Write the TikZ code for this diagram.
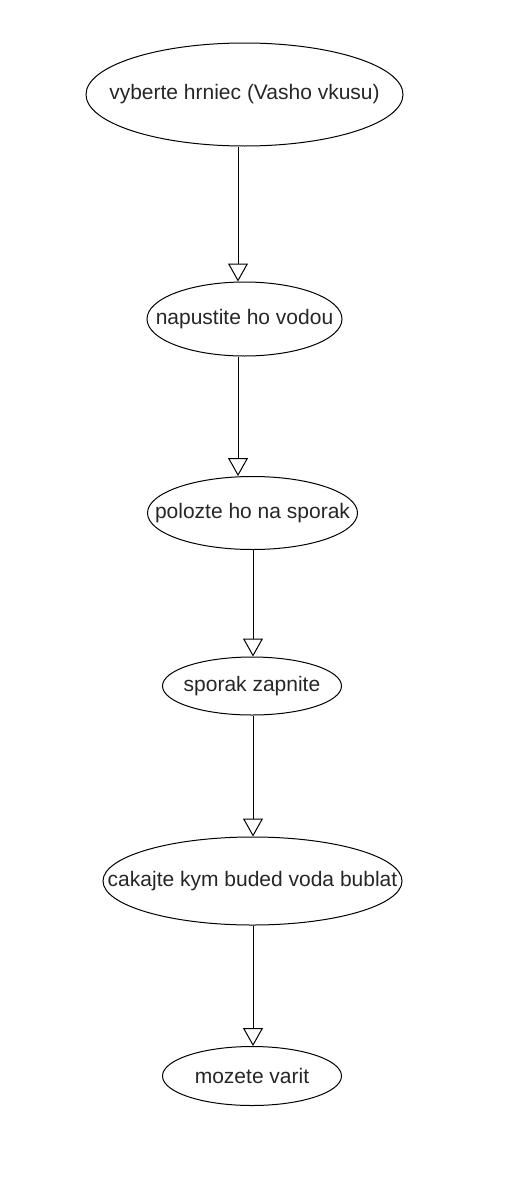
\documentclass[tikz,border=0pt]{standalone}
\usepackage{fontspec}
\setmainfont{Liberation Sans}
\usetikzlibrary{arrows.meta,shapes.geometric}
\tikzset{
    stepnode/.style 2 args={draw,ellipse,inner sep=0pt,line width=1pt,text=black!85,
        minimum width=#1pt,minimum height=#2pt,font=\fontsize{21}{25}\selectfont},
    flow/.style={line width=1pt,-{Triangle[open,width=20pt,length=18pt]}}
}
\begin{document}
\begin{tikzpicture}[x=1pt,y=-1pt]
\useasboundingbox (0,0) rectangle (526,1183);
\node[stepnode={317}{103}] (n1) at (244.5,94.5) {\makebox[0pt]{vyberte hrniec (Vasho vkusu)}};
\node[stepnode={195}{74}] (n2) at (244.5,319) {\makebox[0pt]{napustite ho vodou}};
\node[stepnode={210}{73}] (n3) at (252.5,513) {\makebox[0pt]{polozte ho na sporak}};
\node[stepnode={179}{58}] (n4) at (252,686) {\makebox[0pt]{sporak zapnite}};
\node[stepnode={299}{88}] (n5) at (252.5,881) {\makebox[0pt]{cakajte kym buded voda bublat}};
\node[stepnode={179}{59}] (n6) at (252,1076) {\makebox[0pt]{mozete varit}};
\draw[flow] (n1.south -| 238,0) -- (n2.north -| 238,0);
\draw[flow] (n2.south -| 238,0) -- (n3.north -| 238,0);
\draw[flow] (n3.south -| 253,0) -- (n4.north -| 253,0);
\draw[flow] (n4.south -| 253,0) -- (n5.north -| 253,0);
\draw[flow] (n5.south -| 253,0) -- (n6.north -| 253,0);
\end{tikzpicture}
\end{document}
